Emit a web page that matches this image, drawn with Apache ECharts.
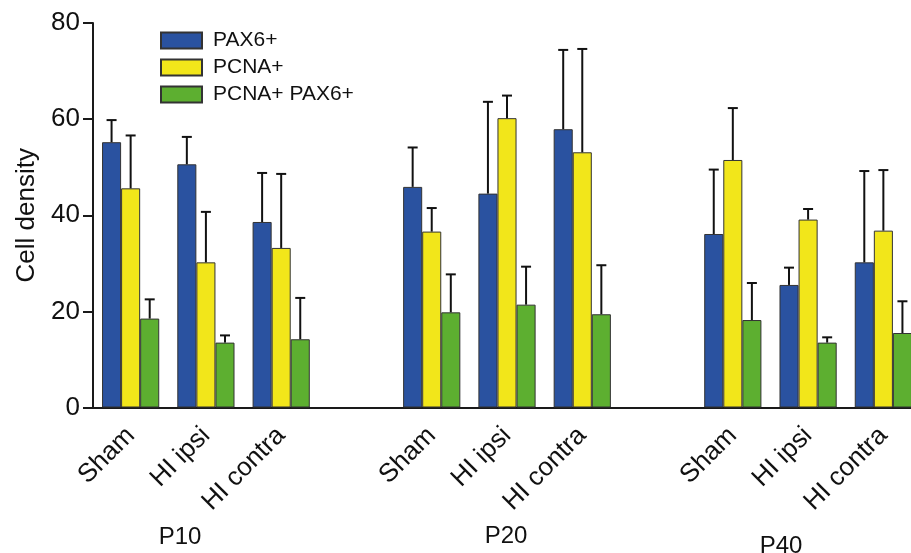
<!DOCTYPE html>
<html>
<head>
<meta charset="utf-8">
<script src="https://cdn.jsdelivr.net/npm/echarts@6/dist/echarts.min.js"></script>
<style>html,body{margin:0;padding:0;background:#fff}#c{width:911px;height:553px}</style>
</head>
<body>
<div id="c"></div>
<script>
// ---- data ----
var categories = ['Sham','HI ipsi','HI contra','','Sham','HI ipsi','HI contra','','Sham','HI ipsi','HI contra'];
var groupLabels = ['P10','P20','P40'];
var seriesNames = ['PAX6+','PCNA+','PCNA+ PAX6+'];
var pax6 = [55.2, 50.6, 38.6, null, 45.9, 44.5, 57.9, null, 36.1, 25.5, 30.2];
var pcna = [45.6, 30.2, 33.2, null, 36.6, 60.2, 53.1, null, 51.5, 39.1, 36.8];
var both = [18.5, 13.5, 14.2, null, 19.8, 21.4, 19.4, null, 18.2, 13.5, 15.5];
var pax6Err = [4.6, 5.7, 10.2, null, 8.2, 19.1, 16.5, null, 13.4, 3.6, 19.0];
var pcnaErr = [11.0, 10.5, 15.4, null, 4.9, 4.7, 21.5, null, 10.8, 2.2, 12.6];
var bothErr = [4.0, 1.5, 8.6, null, 7.9, 7.9, 10.2, null, 7.7, 1.1, 6.6];
var yTicks = [0, 20, 40, 60, 80];

var colors = ['#2A52A0', '#F2E61A', '#5DAF30'];
var values = [pax6, pcna, both];
var errs = [pax6Err, pcnaErr, bothErr];
var GAP = 0.24;
var FONT = 'Liberation Sans, Arial, Helvetica, sans-serif';

function errData(k) {
  var out = [];
  for (var i = 0; i < categories.length; i++) {
    if (values[k][i] != null) out.push([i, values[k][i], errs[k][i]]);
  }
  return out;
}

var series = [];
for (var k = 0; k < 3; k++) {
  series.push({
    name: seriesNames[k],
    type: 'bar',
    data: values[k],
    barGap: '0%',
    barCategoryGap: (GAP * 100) + '%',
    itemStyle: { color: colors[k], borderColor: '#333', borderWidth: 1 },
    emphasis: { disabled: true },
    z: 2
  });
}
for (var k2 = 0; k2 < 3; k2++) {
  (function (k) {
    series.push({
      type: 'custom',
      name: seriesNames[k] + ' err',
      data: errData(k),
      encode: { x: 0, y: 1 },
      z: 3,
      silent: true,
      renderItem: function (params, api) {
        var x = api.value(0), v = api.value(1), sd = api.value(2);
        var base = api.coord([x, v]);
        var top = api.coord([x, v + sd]);
        var band = api.size([1, 0])[0];
        var bw = band * (1 - GAP) / 3;
        var cx = base[0] + (k - 1) * bw;
        var cap = 5;
        return {
          type: 'group',
          children: [
            { type: 'line', shape: { x1: cx, y1: base[1], x2: cx, y2: top[1] }, style: { stroke: '#111', lineWidth: 2 } },
            { type: 'line', shape: { x1: cx - cap, y1: top[1], x2: cx + cap, y2: top[1] }, style: { stroke: '#111', lineWidth: 2 } }
          ]
        };
      }
    });
  })(k2);
}

var chart = echarts.init(document.getElementById('c'), null, { renderer: 'canvas' });
chart.setOption({
  animation: false,
  backgroundColor: '#fff',
  textStyle: { fontFamily: FONT },
  grid: { left: 93, top: 23, height: 384.5, width: 828, containLabel: false, outerBoundsMode: 'none' },
  legend: {
    data: seriesNames,
    orient: 'vertical',
    left: 160,
    top: 30,
    padding: 0,
    itemWidth: 41,
    itemHeight: 16,
    itemGap: 6,
    icon: 'rect',
    textStyle: { fontSize: 21, color: '#111', fontFamily: FONT, padding: [0, 0, 0, 6] }
  },
  xAxis: {
    type: 'category',
    data: categories,
    axisLine: { lineStyle: { color: '#1a1a1a', width: 2 } },
    axisTick: { show: false },
    axisLabel: { rotate: 45, fontSize: 26, color: '#111', margin: 24, interval: 0, fontFamily: FONT }
  },
  yAxis: {
    type: 'value',
    min: yTicks[0],
    max: yTicks[yTicks.length - 1],
    interval: 20,
    name: 'Cell density',
    nameLocation: 'middle',
    nameRotate: 90,
    nameGap: 50,
    nameTextStyle: { fontSize: 26, color: '#111', fontFamily: FONT },
    splitLine: { show: false },
    axisLine: { show: true, lineStyle: { color: '#1a1a1a', width: 2 } },
    axisTick: { show: true, length: 10, lineStyle: { color: '#1a1a1a', width: 2 } },
    axisLabel: { fontSize: 26, color: '#111', margin: 13, fontFamily: FONT }
  },
  graphic: [
    { type: 'text', x: 180, y: 537, style: { text: groupLabels[0], fontSize: 24, fill: '#111', fontFamily: FONT, align: 'center', verticalAlign: 'middle' } },
    { type: 'text', x: 506, y: 536, style: { text: groupLabels[1], fontSize: 24, fill: '#111', fontFamily: FONT, align: 'center', verticalAlign: 'middle' } },
    { type: 'text', x: 781, y: 546, style: { text: groupLabels[2], fontSize: 24, fill: '#111', fontFamily: FONT, align: 'center', verticalAlign: 'middle' } }
  ],
  series: series
});
</script>
</body>
</html>
